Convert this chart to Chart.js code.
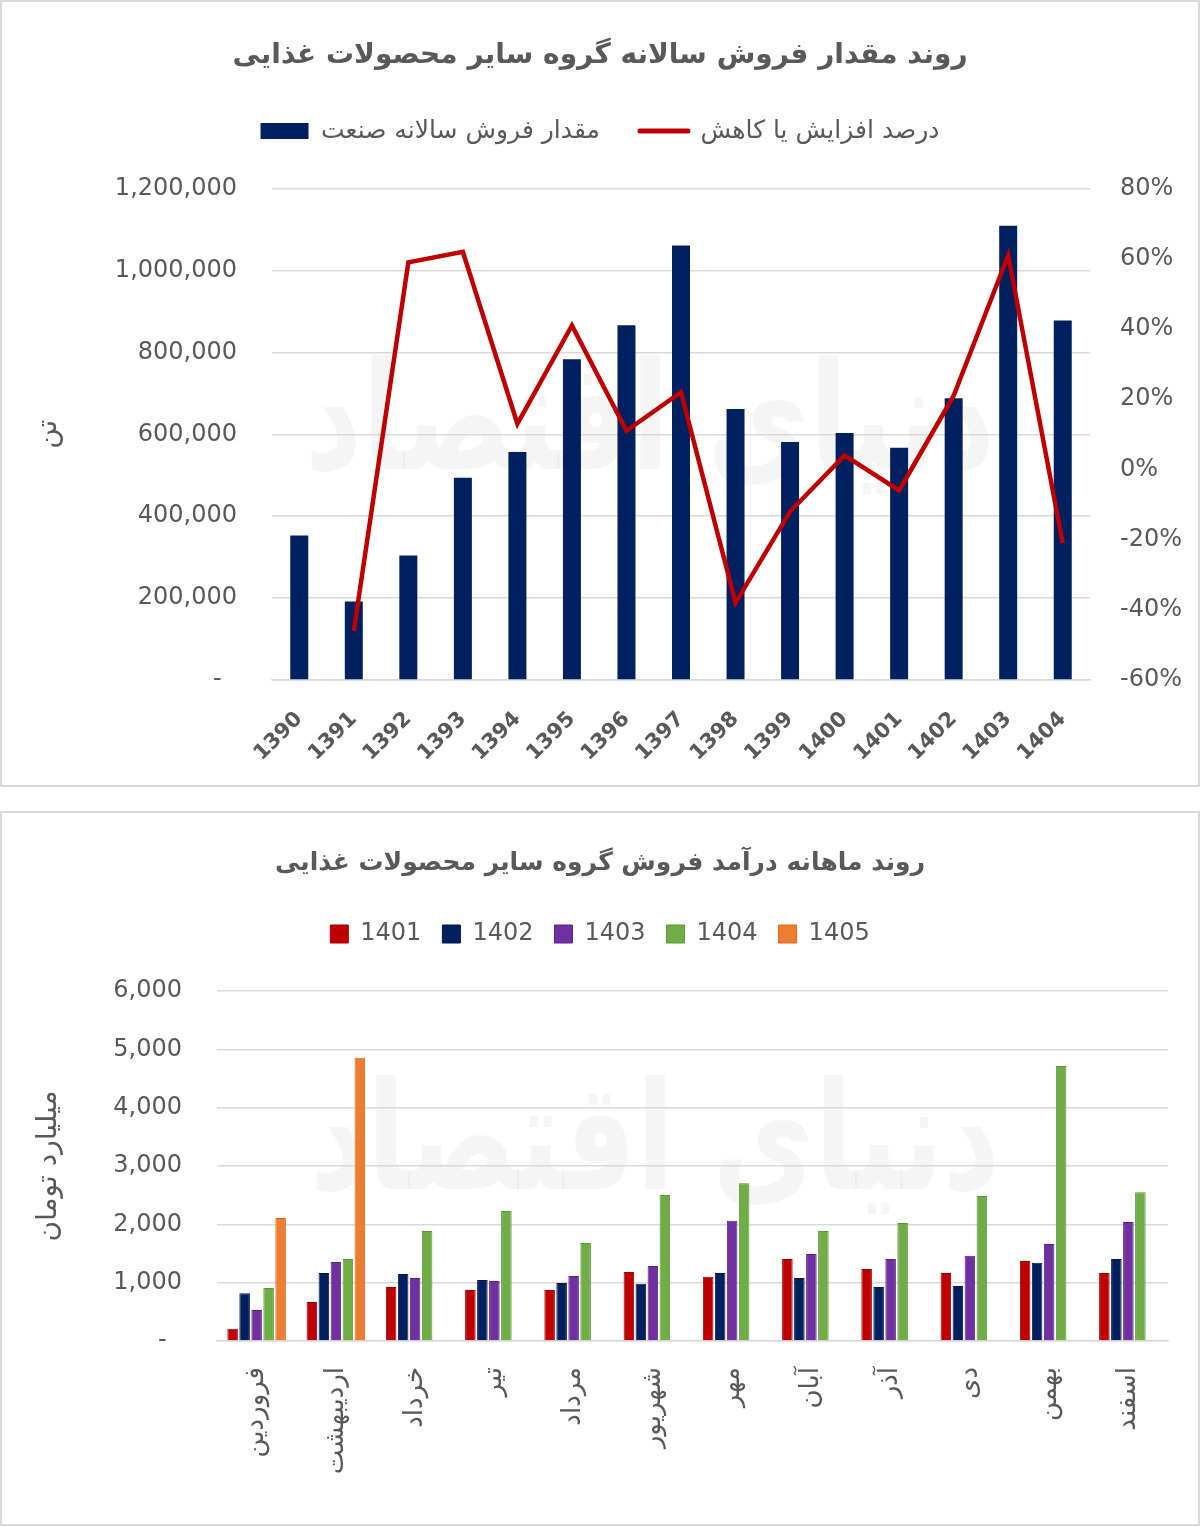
<!DOCTYPE html>
<html>
<head>
<meta charset="utf-8">
<script src="https://cdn.jsdelivr.net/npm/chart.js@4.4.1/dist/chart.umd.min.js"></script>
<style>
  body { margin: 0; background: #fff; }
  .box { position: absolute; left: 0; width: 1196px; border: 2px solid #d9d9d9; background: #fff; }
  #box1 { top: 0; height: 783px; }
  #box2 { top: 811px; height: 711px; }
  canvas { display: block; }
</style>
</head>
<body>
<div class="box" id="box1"><canvas id="salesChart" width="1196" height="783"></canvas></div>
<div class="box" id="box2"><canvas id="monthlyChart" width="1196" height="711"></canvas></div>
<script>
Chart.defaults.font.family = "'DejaVu Sans', sans-serif";
Chart.defaults.color = '#595959';
Chart.defaults.animation = false;

// yearly sales (ton) and yearly change (%)
const years = ['1390', '1391', '1392', '1393', '1394', '1395', '1396', '1397', '1398', '1399', '1400', '1401', '1402', '1403', '1404'];
const salesTon = [353000, 192000, 304000, 494000, 557000, 783000, 866000, 1061000, 662000, 581000, 603000, 567000, 688000, 1109000, 878000];
const changePct = [null, -46, 59, 62, 13, 41, 11, 22, -38, -12, 4, -6, 21, 61, -21];

// monthly revenue (billion toman)
const months = ['فروردین', 'اردیبهشت', 'خرداد', 'تیر', 'مرداد', 'شهریور', 'مهر', 'آبان', 'آذر', 'دی', 'بهمن', 'اسفند'];
const rev1401 = [210, 670, 925, 875, 875, 1185, 1100, 1405, 1235, 1165, 1370, 1165];
const rev1402 = [820, 1165, 1150, 1045, 995, 980, 1165, 1080, 925, 945, 1340, 1405];
const rev1403 = [530, 1355, 1080, 1030, 1115, 1285, 2060, 1490, 1405, 1460, 1665, 2040];
const rev1404 = [910, 1405, 1885, 2230, 1680, 2505, 2705, 1885, 2025, 2485, 4715, 2550];
const rev1405 = [2110, 4855, null, null, null, null, null, null, null, null, null, null];

// empty layout box (gap under the legend / right margin)
function makeSpacer(pos, size) {
    const horiz = pos === 'top' || pos === 'bottom';
    return {
        id: 'spacer_' + pos,
        beforeInit(chart) {
            Chart.layouts.addBox(chart, {
                position: pos, weight: 0, fullSize: horiz,
                options: {},
                update(maxWidth, maxHeight) {
                    this.width = horiz ? maxWidth : size;
                    this.height = horiz ? size : maxHeight;
                },
                getPadding() { return { left: 0, right: 0, top: 0, bottom: 0 }; },
                isHorizontal() { return horiz; },
                draw() {}
            });
        }
    };
}

function makeWatermark(x, y) {
    return {
        id: 'watermark',
        beforeDraw(chart) {
            const ctx = chart.ctx;
            ctx.save();
            ctx.font = "bold 150px 'DejaVu Sans'";
            ctx.fillStyle = 'rgba(0,0,0,0.04)';
            ctx.textAlign = 'center';
            ctx.textBaseline = 'middle';
            ctx.fillText('دنیای اقتصاد', x, y, 690);
            ctx.restore();
        }
    };
}

// accounting style: zero shown as a dash
const thousands = v => v === 0 ? '-  ' : v.toLocaleString('en-US');

new Chart(document.getElementById('salesChart'), {
    type: 'bar',
    data: {
        labels: years,
        datasets: [
            {
                label: 'مقدار فروش سالانه صنعت',
                data: salesTon,
                backgroundColor: '#002060',
                yAxisID: 'y',
                order: 1,
                categoryPercentage: 1,
                barPercentage: 0.33
            },
            {
                type: 'line',
                label: 'درصد افزایش یا کاهش',
                data: changePct,
                borderColor: '#C00000',
                backgroundColor: '#C00000',
                borderWidth: 4.5,
                pointRadius: 0,
                tension: 0,
                yAxisID: 'y1',
                order: 0
            }
        ]
    },
    options: {
        responsive: false,
        devicePixelRatio: 1,
        layout: { padding: 0 },
        plugins: {
            title: {
                display: true,
                text: 'روند مقدار فروش سالانه گروه سایر محصولات غذایی',
                color: '#595959',
                font: { size: 28, weight: 'bold' },
                padding: { top: 37, bottom: 6 }
            },
            legend: {
                labels: {
                    usePointStyle: true,
                    pointStyleWidth: 48,
                    boxHeight: 16,
                    padding: 40,
                    color: '#595959',
                    font: { size: 25 },
                    generateLabels(chart) {
                        const items = Chart.defaults.plugins.legend.labels.generateLabels(chart);
                        items.sort((a, b) => a.datasetIndex - b.datasetIndex);
                        items.forEach(it => {
                            if (it.datasetIndex === 1) {
                                it.pointStyle = 'line';
                                it.lineWidth = 5;
                                it.lineCap = 'round';
                                it.strokeStyle = '#C00000';
                            } else {
                                it.pointStyle = 'rect';
                                it.lineWidth = 0;
                            }
                        });
                        return items;
                    }
                }
            },
            tooltip: { enabled: false }
        },
        scales: {
            x: {
                grid: { display: false },
                border: { color: '#d9d9d9', width: 1.5 },
                ticks: { minRotation: 45, maxRotation: 45, padding: 19, font: { size: 21, weight: 'bold' } },
                afterFit(s) { s.height = 105; }
            },
            y: {
                position: 'left',
                min: 0,
                max: 1200000,
                ticks: { stepSize: 200000, padding: 35, font: { size: 24 }, callback: thousands },
                grid: { color: '#d9d9d9', lineWidth: 1.5, drawTicks: false },
                border: { display: false },
                title: { display: true, text: 'تن', font: { size: 28 }, padding: { top: 30, bottom: 0 } },
                afterFit(s) { s.width = 270; }
            },
            y1: {
                position: 'right',
                min: -60,
                max: 80,
                ticks: { stepSize: 20, padding: 30, font: { size: 24 }, callback: v => v + '%' },
                grid: { display: false, drawTicks: false },
                border: { display: false },
                afterFit(s) { s.width = 108; }
            }
        }
    },
    plugins: [makeSpacer('top', 35), makeWatermark(648, 428)]
});

new Chart(document.getElementById('monthlyChart'), {
    type: 'bar',
    data: {
        labels: months,
        datasets: [
            { label: '1401', data: rev1401, backgroundColor: '#C00000', borderColor: '#A00000' },
            { label: '1402', data: rev1402, backgroundColor: '#002060', borderColor: '#001848' },
            { label: '1403', data: rev1403, backgroundColor: '#7030A0', borderColor: '#5A2088' },
            { label: '1404', data: rev1404, backgroundColor: '#70AD47', borderColor: '#5A9636' },
            { label: '1405', data: rev1405, backgroundColor: '#ED7D31', borderColor: '#D9661C' }
        ]
    },
    options: {
        responsive: false,
        devicePixelRatio: 1,
        layout: { padding: 0 },
        datasets: { bar: { categoryPercentage: 0.757, barPercentage: 0.88, borderWidth: 1 } },
        plugins: {
            title: {
                display: true,
                text: 'روند ماهانه درآمد فروش گروه سایر محصولات غذایی',
                color: '#595959',
                font: { size: 25, weight: 'bold' },
                padding: { top: 35, bottom: 23 }
            },
            legend: {
                labels: { boxWidth: 18, boxHeight: 18, padding: 21, color: '#595959', font: { size: 24 } }
            },
            tooltip: { enabled: false }
        },
        scales: {
            x: {
                grid: { display: false },
                border: { color: '#d9d9d9', width: 1.5 },
                ticks: { minRotation: 90, maxRotation: 90, padding: 18, font: { size: 26 } },
                afterFit(s) { s.height = 183; }
            },
            y: {
                min: 0,
                max: 6000,
                ticks: { stepSize: 1000, padding: 35, font: { size: 24 }, callback: thousands },
                grid: { color: '#d9d9d9', lineWidth: 1.5, drawTicks: false },
                border: { display: false },
                title: { display: true, text: 'میلیارد تومان', font: { size: 28 }, padding: { top: 30, bottom: 0 } },
                afterFit(s) { s.width = 215; }
            }
        }
    },
    plugins: [makeSpacer('top', 35), makeSpacer('right', 30), makeWatermark(653, 337)]
});
</script>
</body>
</html>
